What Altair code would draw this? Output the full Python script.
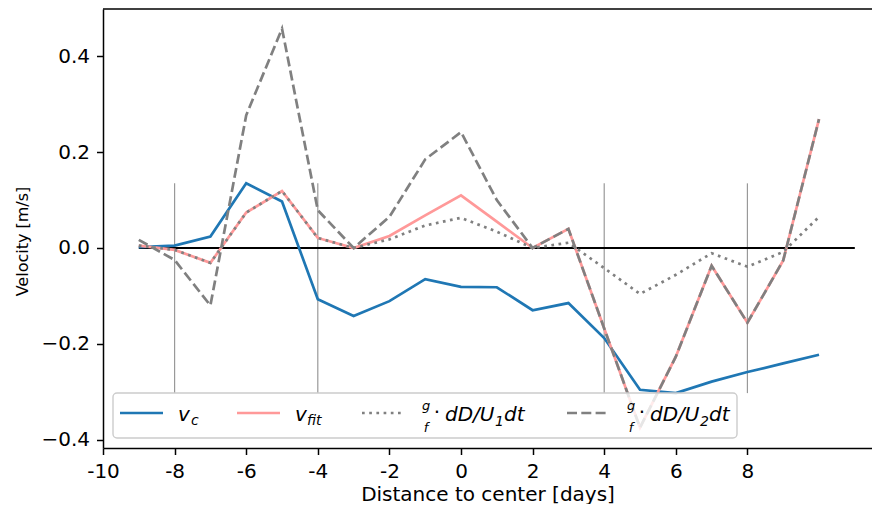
import altair as alt
import pandas as pd

# ---------------- data ----------------
days = list(range(-9, 11))
v_c = [0.002, 0.005, 0.024, 0.135, 0.097, -0.107, -0.142, -0.111, -0.065, -0.081,
       -0.082, -0.130, -0.115, -0.188, -0.296, -0.303, -0.279, -0.259, -0.241, -0.223]
v_fit = [0.005, -0.004, -0.031, 0.074, 0.119, 0.021, 0.000, 0.025, 0.068, 0.110,
         0.055, 0.000, 0.040, -0.168, -0.375, -0.227, -0.037, -0.156, -0.026, 0.269]
dD_U1 = [0.005, -0.004, -0.031, 0.074, 0.119, 0.021, 0.000, 0.018, 0.047, 0.063,
         0.034, 0.000, 0.011, -0.042, -0.096, -0.056, -0.011, -0.039, -0.008, 0.065]
dD_U2 = [0.017, -0.025, -0.120, 0.277, 0.458, 0.079, 0.000, 0.065, 0.185, 0.242,
         0.100, 0.000, 0.040, -0.168, -0.375, -0.227, -0.037, -0.156, -0.026, 0.269]
vline_days = [-8, -4, 4, 8]
zero_span = [-9, 11]
x_ticks = list(range(-10, 10, 2))
y_ticks = [-0.4, -0.2, 0.0, 0.2, 0.4]

# ---------------- layout ----------------
W, H = 769, 439
FONT = "DejaVu Sans"
TICK_FS = 20

xscale = alt.Scale(domain=[-10, 11.48], nice=False, zero=False)
yscale = alt.Scale(domain=[-0.4176, 0.499], nice=False, zero=False)

X = alt.X("day:Q", scale=xscale, title="Distance to center [days]",
          axis=alt.Axis(values=x_ticks, labelExpr="'' + datum.value", labelFlush=False,
                        labelOverlap=False, tickSize=6.5, labelBaseline="alphabetic",
                        labelPadding=23, labelFontSize=TICK_FS,
                        titleFontSize=20, titleBaseline="alphabetic", titleY=52))
Y_AX = alt.Axis(values=y_ticks, format=".1f", labelFlush=False, labelOverlap=False,
                tickSize=6.5, labelPadding=7, labelFontSize=TICK_FS, titleFontSize=16,
                titleBaseline="middle", titleAlign="center", titleX=-80.5, titleY=232)


def Yf(field):
    return alt.Y(f"{field}:Q", scale=yscale, title="Velocity [m/s]", axis=Y_AX)


series = pd.DataFrame({"day": days, "v_c": v_c, "v_fit": v_fit, "u1": dD_U1, "u2": dD_U2})
vl = pd.DataFrame({"day": vline_days, "lo": [min(v_c)] * len(vline_days),
                   "hi": [max(v_c)] * len(vline_days)})
zl = pd.DataFrame({"day": [zero_span[0]], "day2": [zero_span[1]], "v": [0.0]})

vlines = alt.Chart(vl).mark_rule(color="#999999", strokeWidth=1.2).encode(
    x=X, y=Yf("lo"), y2="hi:Q")
zero = alt.Chart(zl).mark_rule(color="black", strokeWidth=2).encode(
    x=X, x2="day2:Q", y=Yf("v"))

LW = 2.7
l_vc = alt.Chart(series).mark_line(color="#1f77b4", strokeWidth=LW).encode(x=X, y=Yf("v_c"))
l_fit = alt.Chart(series).mark_line(color="#ff9999", strokeWidth=LW).encode(x=X, y=Yf("v_fit"))
l_u1 = alt.Chart(series).mark_line(color="#808080", strokeWidth=LW, strokeDash=[2.7, 4.5],
                                   strokeCap="butt").encode(x=X, y=Yf("u1"))
l_u2 = alt.Chart(series).mark_line(color="#808080", strokeWidth=LW, strokeDash=[10, 4.3],
                                   strokeCap="butt").encode(x=X, y=Yf("u2"))

one = pd.DataFrame({"a": [0]})
top_spine = alt.Chart(one).mark_rule(color="black", strokeWidth=1.5).encode(
    x=alt.value(0), x2=alt.value(W), y=alt.value(0))

# ---------------- legend (hand built, lower left) ----------------
leg_box = alt.Chart(one).mark_rect(fill="white", fillOpacity=0.8, stroke="#cccccc",
                                   strokeWidth=1.4, cornerRadius=4).encode(
    x=alt.value(10), x2=alt.value(634), y=alt.value(384), y2=alt.value(429))


def sample(x1, x2, color, dash=None):
    kw = dict(color=color, strokeWidth=LW, strokeCap="butt")
    if dash:
        kw["strokeDash"] = dash
    return alt.Chart(one).mark_rule(**kw).encode(
        x=alt.value(x1), x2=alt.value(x2), y=alt.value(404))


def txt(s, x, y, size, italic=True, align="left", baseline="alphabetic"):
    kw = dict(text=s, font=FONT, fontSize=size, align=align, baseline=baseline, color="black")
    if italic:
        kw["fontStyle"] = "italic"
    return alt.Chart(one).mark_text(**kw).encode(x=alt.value(x), y=alt.value(y))


LF, SF, FF = 20, 14, 13
BASE, SUB = 412, 416
legend = [
    leg_box,
    sample(17, 60, "#1f77b4"),
    txt("v", 75, BASE, LF), txt("c", 88, SUB, SF),
    sample(134, 177, "#ff9999"),
    txt("v", 192, BASE, LF), txt("fit", 204, SUB, SF),
    sample(259, 299, "#808080", [2.7, 4.5]),
    txt("g", 323, 400.5, FF, align="center"), txt("f", 323, 423, FF, align="center"),
    txt("·", 334, 404, LF, italic=False, align="center", baseline="middle"),
    txt("dD/U", 342, BASE, LF), txt("1", 392, SUB + 1, SF), txt("dt", 401, BASE, LF),
    sample(464, 504, "#808080", [10, 4.3]),
    txt("g", 528, 400.5, FF, align="center"), txt("f", 528, 423, FF, align="center"),
    txt("·", 539, 404, LF, italic=False, align="center", baseline="middle"),
    txt("dD/U", 547, BASE, LF), txt("2", 597, SUB + 1, SF), txt("dt", 606, BASE, LF),
]

chart = alt.layer(vlines, zero, l_vc, l_fit, l_u1, l_u2, top_spine, *legend).properties(
    width=W, height=H,
    autosize=alt.AutoSizeParams(type="none"),
    padding={"left": 95, "top": 1, "right": 0, "bottom": 56},
).configure_view(stroke=None).configure_axis(
    labelFont=FONT, titleFont=FONT, titleFontWeight="normal", grid=False,
    domainColor="black", domainWidth=1.5, tickColor="black", tickWidth=1.5,
    labelColor="black", titleColor="black",
)

chart.save("out.html", embed_options={"renderer": "svg", "actions": False})
